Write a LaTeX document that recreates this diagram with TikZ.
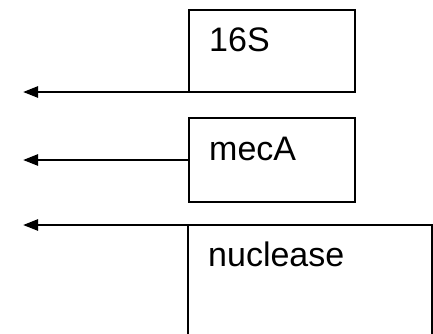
\documentclass[tikz,border=0pt]{standalone}
\usepackage{fontspec}
\setmainfont{Liberation Sans}
\usetikzlibrary{arrows.meta}
\begin{document}
\begin{tikzpicture}[x=1pt,y=1pt,
  box/.style={draw=black, line width=2pt, rectangle, inner sep=0pt, outer sep=0pt, anchor=north west},
  lbl/.style={font=\fontsize{34}{38}\selectfont, inner sep=0pt, anchor=base west},
  arr/.style={draw=black, line width=2.5pt, -{Triangle[length=15pt,width=11pt]}}]
  \useasboundingbox (0,0) rectangle (433,-333);
  \clip (0,0) rectangle (433,-333);
  % gene boxes
  \node[box, minimum width=166pt, minimum height=82pt] (s16) at (189,-10) {};
  \node[box, minimum width=166pt, minimum height=84pt] (mec) at (189,-118) {};
  \node[box, minimum width=244pt, minimum height=130pt] (nuc) at (188,-225) {};
  % gene names
  \node[lbl] (t16) at (209,-51) {16S};
  \node[lbl] (tmec) at (209,-160) {mecA};
  \node[lbl] (tnuc) at (208,-266) {nuclease};
  % arrow end points
  \coordinate (e1) at (23,-92);
  \coordinate (e2) at (23,-160);
  \coordinate (e3) at (23,-225);
  \draw[arr] (s16.south west) -- (e1);
  \draw[arr] (mec.west) -- (e2);
  \draw[arr] (nuc.north west) -- (e3);
\end{tikzpicture}
\end{document}
